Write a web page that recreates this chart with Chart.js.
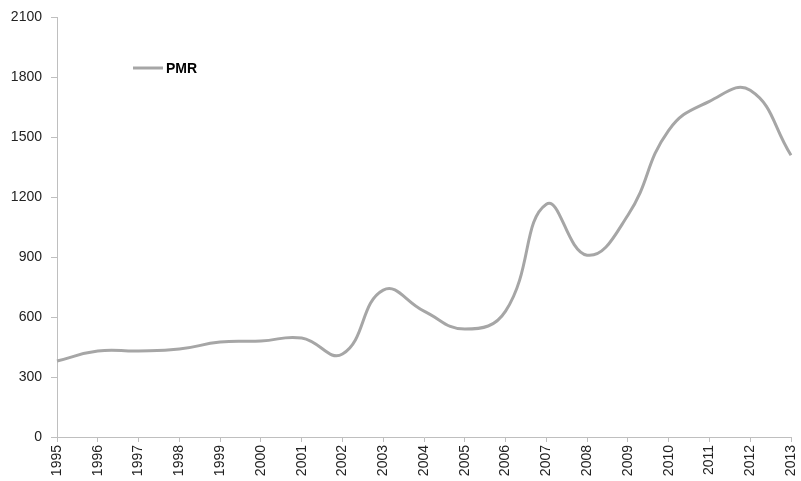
<!DOCTYPE html>
<html>
<head>
<meta charset="utf-8">
<script src="https://cdn.jsdelivr.net/npm/chart.js"></script>
<style>
  html, body { margin: 0; padding: 0; background: #fff; }
  #wrap { position: relative; width: 801px; height: 481px; }
</style>
</head>
<body>
<div id="wrap"><canvas id="pmr" width="801" height="481"></canvas></div>
<script>
const years = ["1995", "1996", "1997", "1998", "1999", "2000", "2001", "2002", "2003", "2004",
  "2005", "2006", "2007", "2008", "2009", "2010", "2011", "2012", "2013"];
const pmrValues = [380, 430, 430, 440, 475, 480, 495, 415, 735, 630,
  540, 630, 1165, 910, 1110, 1535, 1680, 1735, 1410];
const yTicks = [0, 300, 600, 900, 1200, 1500, 1800, 2100];

const lineColor = "#a6a6a6";
const axisColor = "#bfbfbf";

// legend sits inside the plot, like the original
const insideLegend = {
  id: "insideLegend",
  afterDraw(chart) {
    const ctx = chart.ctx;
    ctx.save();
    ctx.strokeStyle = lineColor;
    ctx.lineWidth = 3;
    ctx.beginPath();
    ctx.moveTo(133, 68);
    ctx.lineTo(163, 68);
    ctx.stroke();
    ctx.fillStyle = "#000";
    ctx.font = "bold 14px 'Liberation Sans', Arial, sans-serif";
    ctx.textBaseline = "middle";
    ctx.fillText(chart.data.datasets[0].label, 166, 69);
    ctx.restore();
  }
};

new Chart(document.getElementById("pmr"), {
  type: "line",
  data: {
    labels: years,
    datasets: [{
      label: "PMR",
      data: pmrValues,
      borderColor: lineColor,
      borderWidth: 3,
      pointRadius: 0,
      tension: 0.45,
      fill: false
    }]
  },
  options: {
    responsive: false,
    animation: false,
    layout: { padding: { top: 17, right: 0, left: 0, bottom: 0 } },
    plugins: { legend: { display: false }, tooltip: { enabled: false } },
    scales: {
      x: {
        offset: false,
        afterFit: s => { s.height = 44; s.paddingRight = 10; },
        border: { color: axisColor, width: 1 },
        grid: { display: true, drawOnChartArea: false, color: axisColor, tickLength: 5 },
        ticks: {
          minRotation: 90, maxRotation: 90, autoSkip: false, padding: 3,
          color: "#222", font: { family: "'Liberation Sans', Arial, sans-serif", size: 14 }
        }
      },
      y: {
        min: 0, max: 2100,
        afterFit: s => { s.width = 57; },
        afterBuildTicks: s => { s.ticks = yTicks.map(v => ({ value: v })); },
        border: { color: axisColor, width: 1 },
        grid: { display: true, drawOnChartArea: false, color: axisColor, tickLength: 6 },
        ticks: {
          autoSkip: false,
          padding: 9,
          callback: v => String(v),
          color: "#222", font: { family: "'Liberation Sans', Arial, sans-serif", size: 14 }
        }
      }
    }
  },
  plugins: [insideLegend]
});
</script>
</body>
</html>
